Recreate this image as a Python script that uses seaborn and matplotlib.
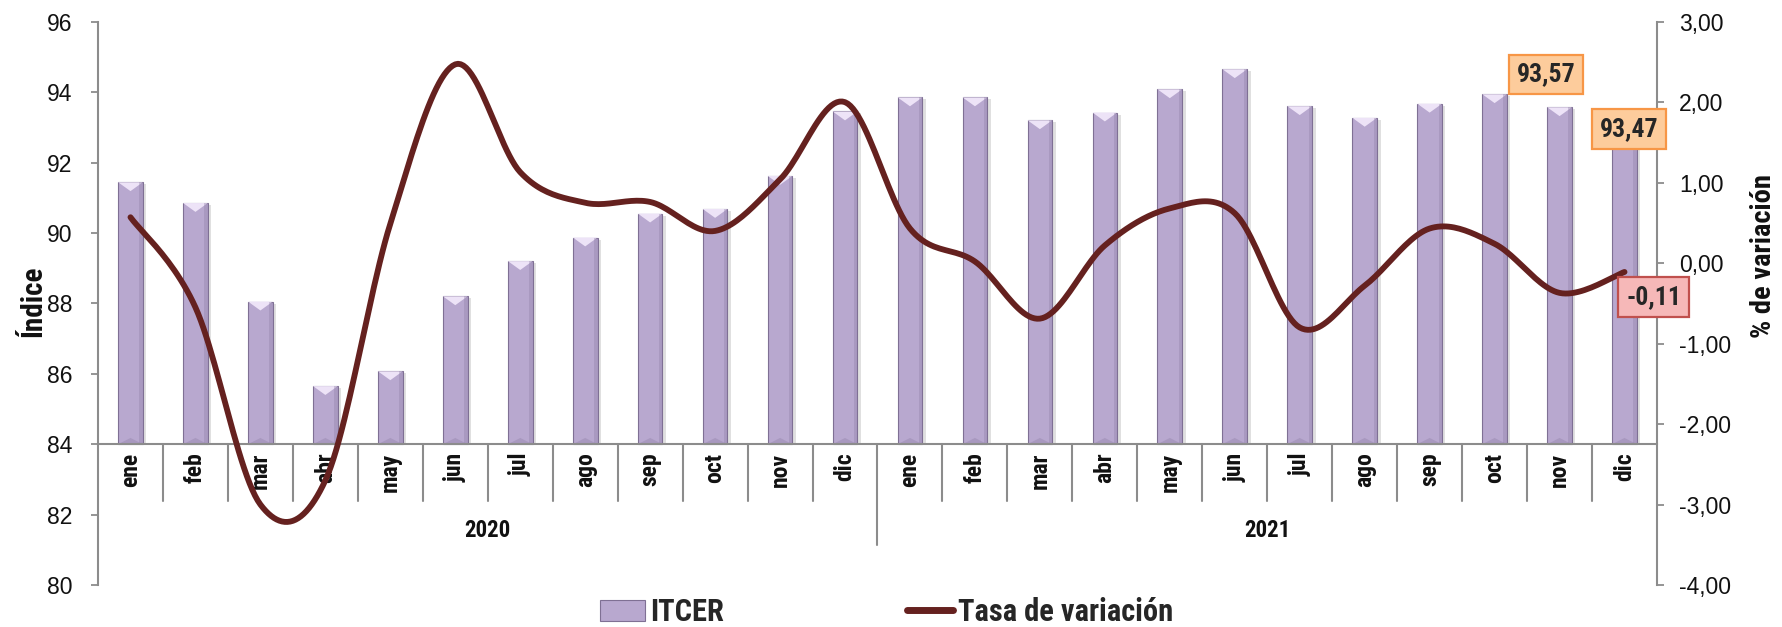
import numpy as np
import pandas as pd
import matplotlib
matplotlib.use("Agg")
import matplotlib.pyplot as plt
import seaborn as sns
from matplotlib import font_manager as fm
from matplotlib.patches import Patch, Polygon, Rectangle
from matplotlib.lines import Line2D

# ---- data -------------------------------------------------------------
years = ["2020", "2021"]
months = ["ene", "feb", "mar", "abr", "may", "jun",
          "jul", "ago", "sep", "oct", "nov", "dic"]
itcer_2020 = [91.44, 90.85, 88.05, 85.65, 86.07, 88.20,
              89.20, 89.87, 90.55, 90.68, 91.62, 93.45]
itcer_2021 = [93.85, 93.85, 93.20, 93.42, 94.08, 94.65,
              93.60, 93.27, 93.67, 93.94, 93.57, 93.47]
tasa_2020 = [0.57, -0.55, -3.00, -2.70, 0.49, 2.47,
             1.13, 0.75, 0.76, 0.40, 1.04, 2.00]
tasa_2021 = [0.43, 0.02, -0.69, 0.22, 0.68, 0.62,
             -0.80, -0.28, 0.43, 0.24, -0.37, -0.11]
left_ticks = [80, 82, 84, 86, 88, 90, 92, 94, 96]
right_ticks = [-4, -3, -2, -1, 0, 1, 2, 3]

periodos = [f"{y}-{m}" for y in years for m in months]
df = pd.DataFrame({
    "periodo": periodos,
    "mes": months * len(years),
    "itcer": itcer_2020 + itcer_2021,
    "tasa": tasa_2020 + tasa_2021,
})

# ---- style ------------------------------------------------------------
sns.set_theme(style="white")
names = {f.name for f in fm.fontManager.ttflist}
NARROW = "Liberation Sans"
for cand in ["Liberation Sans Narrow", "Arial Narrow", "Roboto Condensed"]:
    if cand in names:
        NARROW = cand
        break
REG = "Liberation Sans" if "Liberation Sans" in names else "DejaVu Sans"
plt.rcParams["font.family"] = [REG, "DejaVu Sans"]

BAR = "#B8A8CF"
BAR_EDGE = "#7F7094"
BAR_TOP = "#EDE3F7"
BAR_BOTTOM = "#A898BF"
LINE = "#65211F"
AXIS = "#8C8C8C"
INK = "#111111"

W, H, DPI = 1783, 627, 100
fig = plt.figure(figsize=(W / DPI, H / DPI), dpi=DPI)
ax = fig.add_axes([98 / W, 1 - 585 / H, (1657 - 98) / W, (585 - 21.7) / H])

BASE = 84
sns.barplot(data=df, x="periodo", y="itcer", order=periodos, color=BAR,
            saturation=1, width=0.38, ax=ax, zorder=2,
            edgecolor=BAR_EDGE, linewidth=0.8)

ax.set_xlim(-0.5, len(periodos) - 0.5)
ax.set_ylim(left_ticks[0], left_ticks[-1])
# the category axis crosses the value axis at 84
ax.spines["bottom"].set_position(("data", BASE))

# bars grow from the category axis, with a bevelled look
px_per_y = (585 - 21.7) / (left_ticks[-1] - left_ticks[0])
px_per_x = (1657 - 98) / len(periodos)
for p in list(ax.patches):
    top = p.get_y() + p.get_height()
    p.set_y(BASE)
    p.set_height(top - BASE)
    x0, w = p.get_x(), p.get_width()
    depth = (w * px_per_x * 0.36) / px_per_y
    ax.add_patch(Rectangle((x0 + w, BASE), 3.5 / px_per_x, top - BASE - 2 / px_per_y,
                           facecolor="#000000", alpha=0.12, lw=0, zorder=1.9))
    ax.add_patch(Polygon([[x0, top], [x0 + w, top], [x0 + w / 2, top - depth]],
                         closed=True, facecolor=BAR_TOP, edgecolor="none", zorder=2.1))
    ax.add_patch(Polygon([[x0, BASE], [x0 + w, BASE], [x0 + w / 2, BASE + depth * 0.7]],
                         closed=True, facecolor=BAR_BOTTOM, edgecolor="none", zorder=2.1))
    ax.add_patch(Rectangle((x0 + w * 0.86, BASE), w * 0.14, top - BASE,
                           facecolor="#8E7EA6", alpha=0.35, lw=0, zorder=2.1))

# axes cosmetics
ax.set_yticks(left_ticks)
ax.set_yticklabels([str(t) for t in left_ticks], fontsize=16.5, color=INK)
ax.tick_params(axis="y", direction="out", length=5, width=1.3, color=AXIS,
               pad=13.5, left=True)
ax.set_xticks(range(len(periodos)))
ax.set_xticklabels(list(df["mes"]), rotation=90, fontsize=17, fontweight="bold",
                   fontfamily=NARROW, color=INK, va="top", ha="center")
ax.tick_params(axis="x", length=0, pad=6)
for s in ["top", "right"]:
    ax.spines[s].set_visible(False)
for s in ["left", "bottom"]:
    ax.spines[s].set_color(AXIS)
    ax.spines[s].set_linewidth(1.5)
ax.set_xlabel("")
ax.set_ylabel("")

# category separators and year groups
sep_short = BASE - 57 / px_per_y
sep_long = BASE - 101 / px_per_y
n = len(months)
for i in range(1, len(periodos)):
    y_end = sep_long if i % n == 0 else sep_short
    ax.plot([i - 0.5, i - 0.5], [BASE, y_end], color=AXIS, lw=1.5,
            clip_on=False, zorder=1)
for k, yr in enumerate(years):
    ax.text(k * n + (n - 1) / 2, BASE - 86 / px_per_y, yr, ha="center", va="center",
            fontsize=16.5, fontweight="bold", fontfamily=NARROW, color=INK)

# axis titles
fig.text(33 / W, 1 - 301 / H, "Índice", rotation=90, ha="center", va="center",
         fontsize=21, fontweight="bold", fontfamily=NARROW, color=INK)
fig.text(1764 / W, 1 - 256 / H, "% de variación", rotation=90, ha="center",
         va="center", fontsize=20.5, fontweight="bold", fontfamily=NARROW, color=INK)

# ---- variation line on the secondary axis ----------------------------
ax2 = ax.twinx()
ax2.set_ylim(right_ticks[0], right_ticks[-1])


def smooth(xv, yv, steps=24):
    pts = np.column_stack([xv, yv]).astype(float)
    out = []
    for i in range(len(pts) - 1):
        p0 = pts[i - 1] if i > 0 else pts[i]
        p1, p2 = pts[i], pts[i + 1]
        p3 = pts[i + 2] if i + 2 < len(pts) else pts[i + 1]
        c1 = p1 + (p2 - p0) / 6
        c2 = p2 - (p3 - p1) / 6
        t = np.linspace(0, 1, steps, endpoint=(i == len(pts) - 2))[:, None]
        seg = ((1 - t) ** 3) * p1 + 3 * ((1 - t) ** 2) * t * c1 \
            + 3 * (1 - t) * t ** 2 * c2 + t ** 3 * p2
        out.append(seg)
    out = np.vstack(out)
    return out[:, 0], out[:, 1]


xs, ys = smooth(np.arange(len(df)), df["tasa"].to_numpy())
ax2.plot(xs, ys, color=LINE, lw=4.2, solid_capstyle="round", zorder=3)

ax2.set_yticks(right_ticks)
ax2.set_yticklabels([f"{t:.2f}".replace(".", ",") for t in right_ticks],
                    fontsize=16.5, color=INK)
ax2.tick_params(axis="y", direction="out", length=5, width=1.3, color=AXIS,
                pad=11, right=True)
for s in ["top", "left", "bottom"]:
    ax2.spines[s].set_visible(False)
ax2.spines["right"].set_color(AXIS)
ax2.spines["right"].set_linewidth(1.5)
ax2.grid(False)
ax.grid(False)


def fmt(v):
    return f"{v:.2f}".replace(".", ",")


orange_box = dict(boxstyle="square,pad=0.3", facecolor="#FDCC9C", edgecolor="#F79646", lw=1.6)
red_box = dict(boxstyle="square,pad=0.3", facecolor="#F6B8B8", edgecolor="#C0504D", lw=1.6)
last = len(df) - 1
ax2.annotate(fmt(df["itcer"].iloc[last - 1]), xy=(last - 1, df["itcer"].iloc[last - 1]),
             xycoords=ax.transData, xytext=(-9.5, 23.5), textcoords="offset points",
             ha="center", va="center", fontsize=18.5, fontweight="bold",
             fontfamily=NARROW, bbox=orange_box, zorder=10)
ax2.annotate(fmt(df["itcer"].iloc[last]), xy=(last, df["itcer"].iloc[last]),
             xycoords=ax.transData, xytext=(3.5, -13), textcoords="offset points",
             ha="center", va="center", fontsize=18.5, fontweight="bold",
             fontfamily=NARROW, bbox=orange_box, zorder=10)
ax2.annotate(fmt(df["tasa"].iloc[last]), xy=(last, df["tasa"].iloc[last]),
             xytext=(21, -18), textcoords="offset points",
             ha="center", va="center", fontsize=18.5, fontweight="bold",
             fontfamily=NARROW, bbox=red_box, zorder=10)

# ---- legend -----------------------------------------------------------
handles = [Patch(facecolor=BAR, edgecolor=BAR_EDGE, lw=0.8),
           Line2D([0], [0], color=LINE, lw=5, solid_capstyle="round")]
fig.legend(handles, ["ITCER", "Tasa de variación"], loc="center",
           bbox_to_anchor=(0.497, 1 - 612 / H), ncol=2, frameon=False,
           prop={"family": NARROW, "weight": "bold", "size": 22},
           handlelength=1.5, handletextpad=0.15, columnspacing=6.0)

fig.savefig("out.png", dpi=DPI)
